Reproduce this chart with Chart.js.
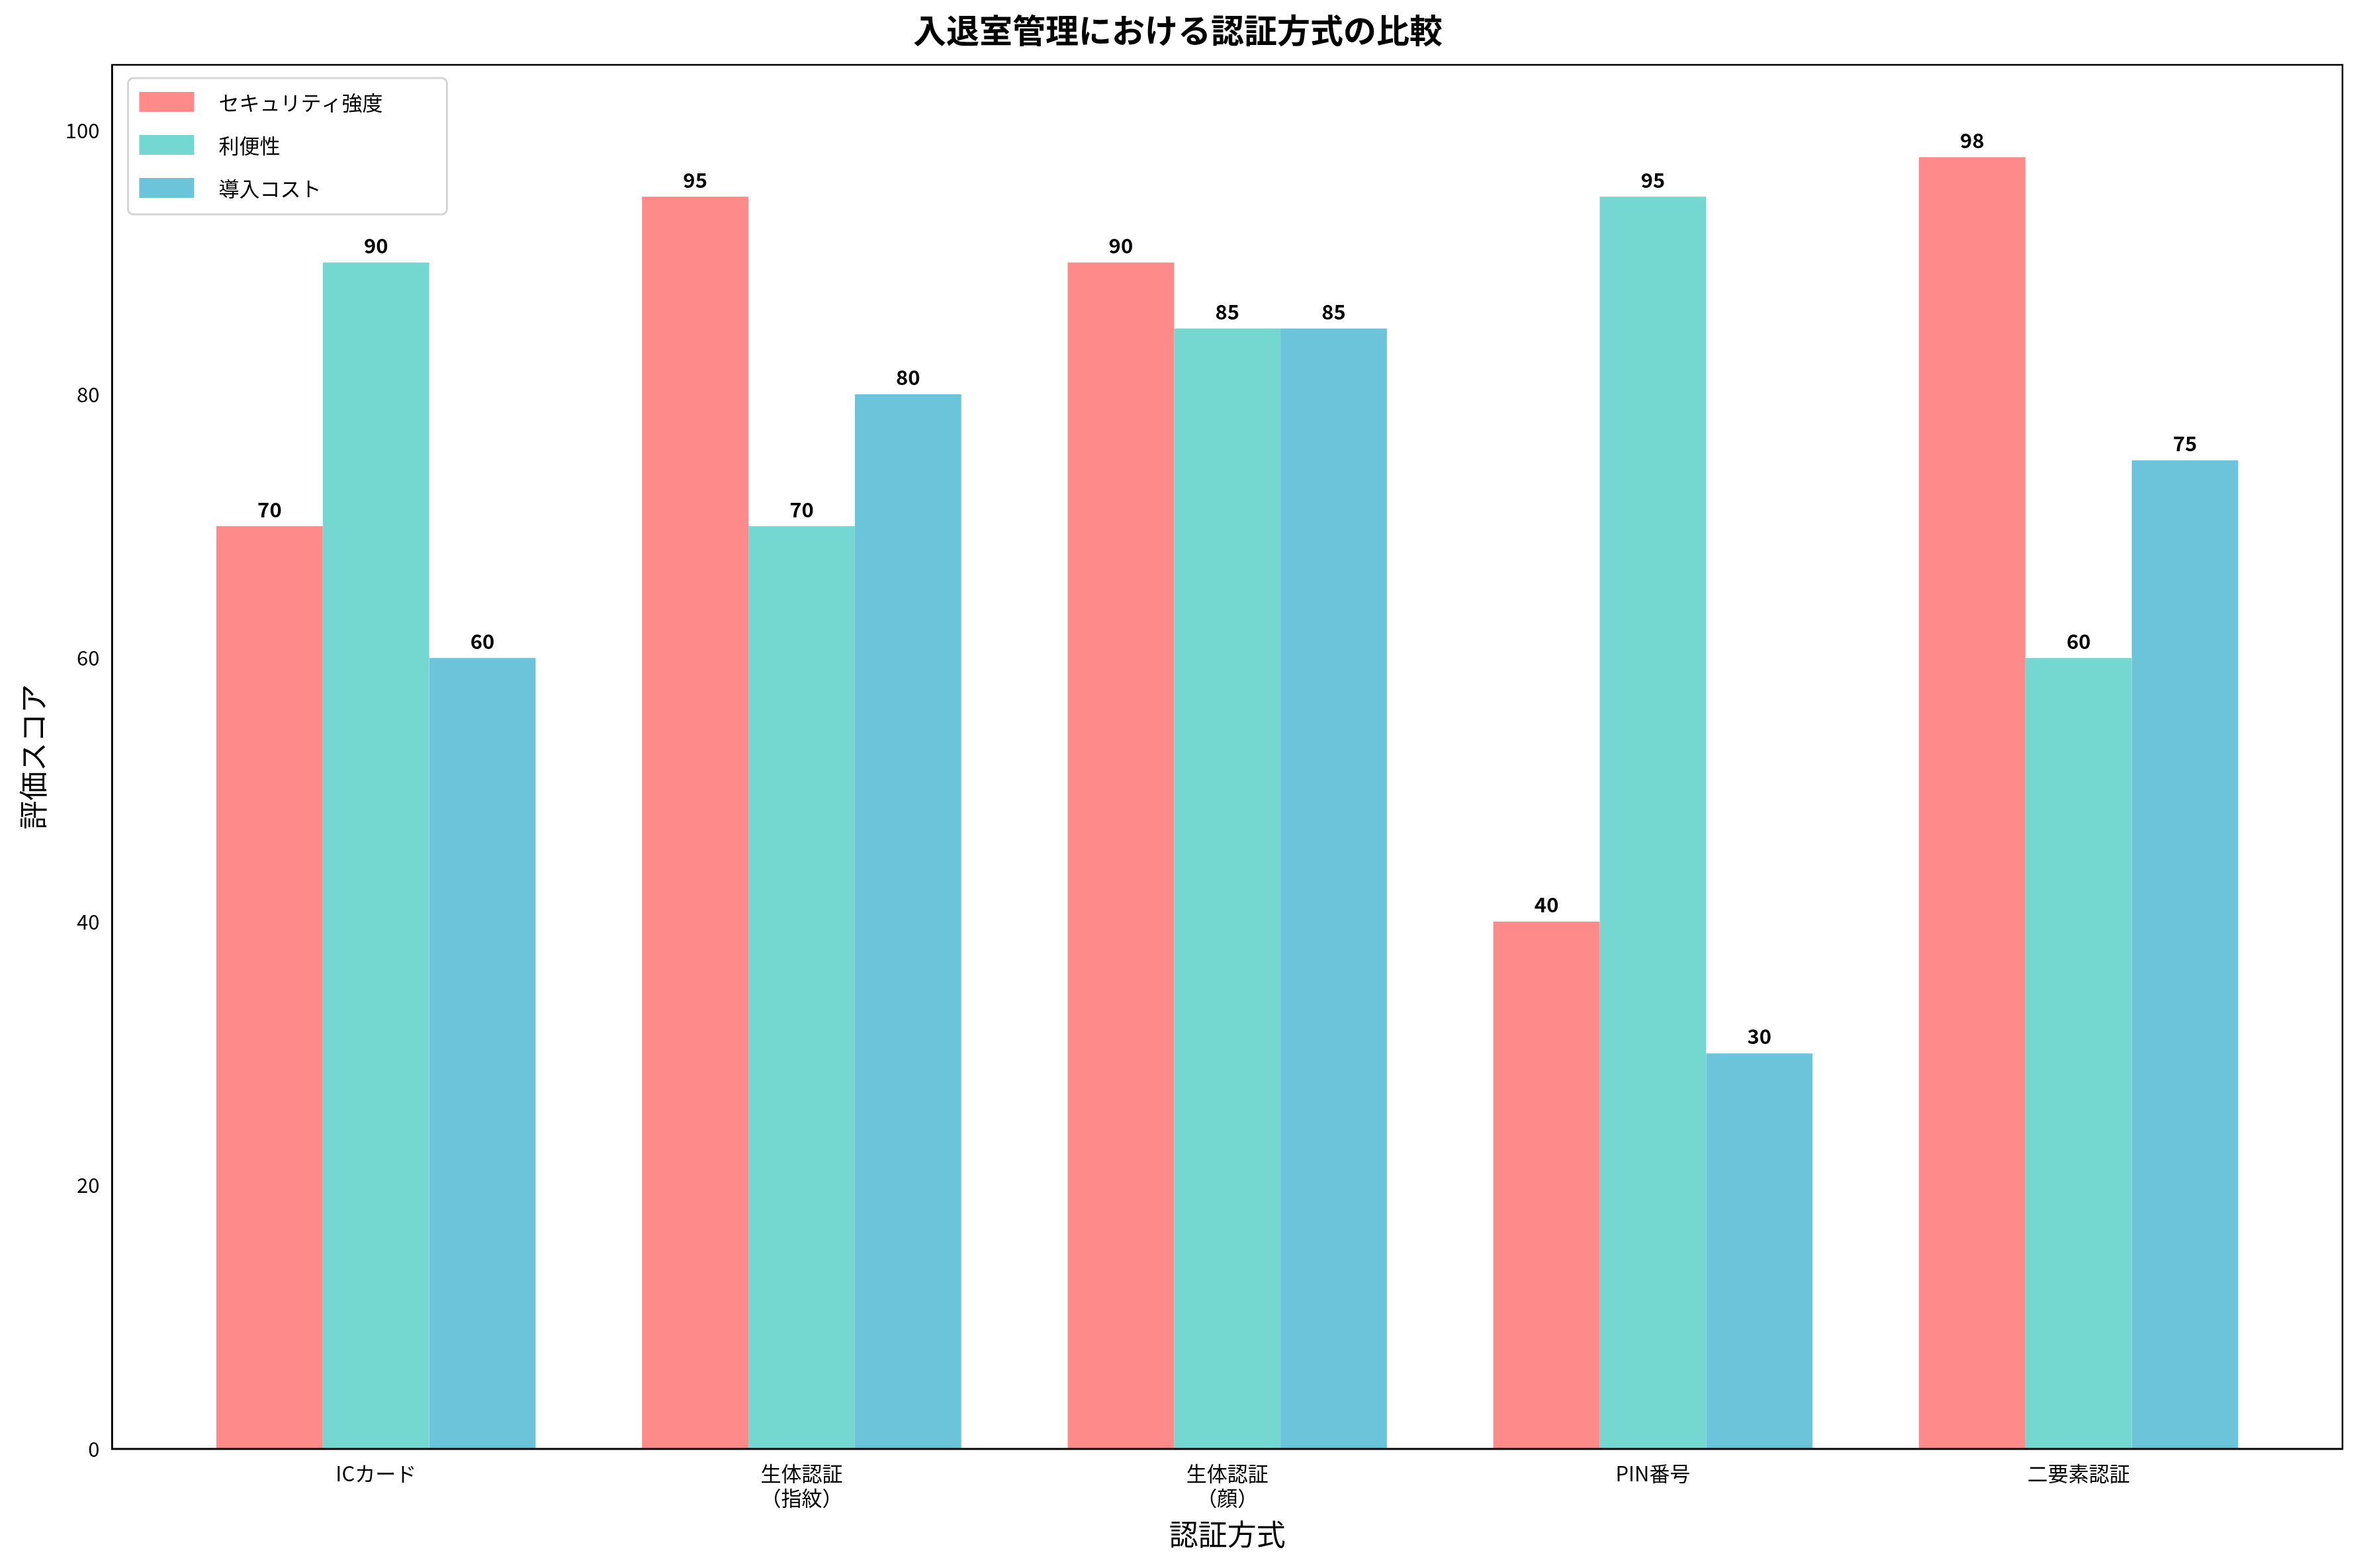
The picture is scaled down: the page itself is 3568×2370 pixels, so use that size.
<!DOCTYPE html>
<html><head><meta charset="utf-8">
<script src="https://cdn.jsdelivr.net/npm/chart.js@4"></script>
<style>html,body{margin:0;background:#fff}#w{width:3568px;height:2370px}</style>
</head><body><div id="w"><canvas id="c"></canvas></div>
<script>
const categories = [["ICカード"], ["生体認証", "（指紋）"], ["生体認証", "（顔）"], ["PIN番号"], ["二要素認証"]];
const seriesNames = ["セキュリティ強度", "利便性", "導入コスト"];
const security = [70, 95, 90, 40, 98];
const convenience = [90, 70, 85, 95, 60];
const cost = [60, 80, 85, 30, 75];
const yTicks = [0, 20, 40, 60, 80, 100];
const colors = ["#FF8A8A", "#74D7D0", "#6BC4D9"];
const FONT = "'Noto Sans CJK JP', 'DejaVu Sans', sans-serif";
const toXY = arr => arr.map((v, i) => ({x: i, y: v}));

const labelPlugin = {
  id: 'labels',
  afterDatasetsDraw(chart) {
    const ctx = chart.ctx;
    ctx.save();
    ctx.font = "bold 31px " + FONT;
    ctx.fillStyle = "#000";
    ctx.textAlign = "center";
    ctx.textBaseline = "bottom";
    chart.data.datasets.forEach((ds, di) => {
      chart.getDatasetMeta(di).data.forEach((bar, i) => {
        ctx.fillText(String(ds.data[i].y), bar.x, bar.y - 10);
      });
    });
    // legend
    const a = chart.chartArea;
    const bx = a.left + 24, by = a.top + 20, bw = 482, bh = 206;
    ctx.beginPath();
    ctx.roundRect(bx, by, bw, bh, 8);
    ctx.fillStyle = "rgba(255,255,255,0.8)";
    ctx.fill();
    ctx.strokeStyle = "#d5d5d5";
    ctx.lineWidth = 3;
    ctx.stroke();
    ctx.font = "31px " + FONT;
    ctx.textAlign = "left";
    ctx.textBaseline = "middle";
    chart.data.datasets.forEach((ds, di) => {
      const cy = by + 36 + di * 65;
      ctx.fillStyle = ds.backgroundColor;
      ctx.fillRect(bx + 17, cy - 15, 83, 30);
      ctx.fillStyle = "#000";
      ctx.fillText(ds.label, bx + 137, cy + 1);
    });
    ctx.restore();
  }
};

new Chart(document.getElementById('c'), {
  type: 'bar',
  data: {
    datasets: [security, convenience, cost].map((d, i) => ({
      label: seriesNames[i], data: toXY(d), backgroundColor: colors[i],
      categoryPercentage: 0.75, barPercentage: 1.0, borderWidth: 0
    }))
  },
  options: {
    responsive: true, maintainAspectRatio: false, animation: false,
    devicePixelRatio: 1,
    layout: {padding: {top: 10, right: 28, bottom: 20, left: 20}},
    plugins: {
      legend: {display: false}, tooltip: {enabled: false},
      title: {display: true, text: "入退室管理における認証方式の比較",
        font: {family: FONT, size: 50}, color: "#000", padding: {top: 6, bottom: 22}}
    },
    scales: {
      x: {
        type: 'linear', min: -0.62, max: 4.62, offset: false,
        afterBuildTicks: s => { s.ticks = categories.map((c, i) => ({value: i})); },
        ticks: {callback: v => categories[v], font: {family: FONT, size: 31}, color: "#000", maxRotation: 0, padding: 8},
        grid: {display: false, drawTicks: true, tickLength: 11, tickColor: "#000"},
        border: {color: "#000", width: 2.5},
        title: {display: true, text: "認証方式", font: {family: FONT, size: 44}, color: "#000", padding: {top: 2}}
      },
      y: {
        min: 0, max: 105,
        afterBuildTicks: s => { s.ticks = yTicks.map(v => ({value: v})); },
        ticks: {font: {family: FONT, size: 31}, color: "#000", padding: 8},
        grid: {display: false, drawTicks: true, tickLength: 11, tickColor: "#000"},
        border: {color: "#000", width: 2.5},
        title: {display: true, text: "評価スコア", font: {family: FONT, size: 44}, color: "#000", padding: {bottom: 14}}
      }
    }
  },
  plugins: [labelPlugin, {
    id: 'frame',
    afterDraw(chart) {
      const a = chart.chartArea, ctx = chart.ctx;
      ctx.save(); ctx.strokeStyle = "#000"; ctx.lineWidth = 2.5;
      ctx.strokeRect(a.left, a.top, a.right - a.left, a.bottom - a.top);
      ctx.restore();
    }
  }]
});
</script></body></html>
